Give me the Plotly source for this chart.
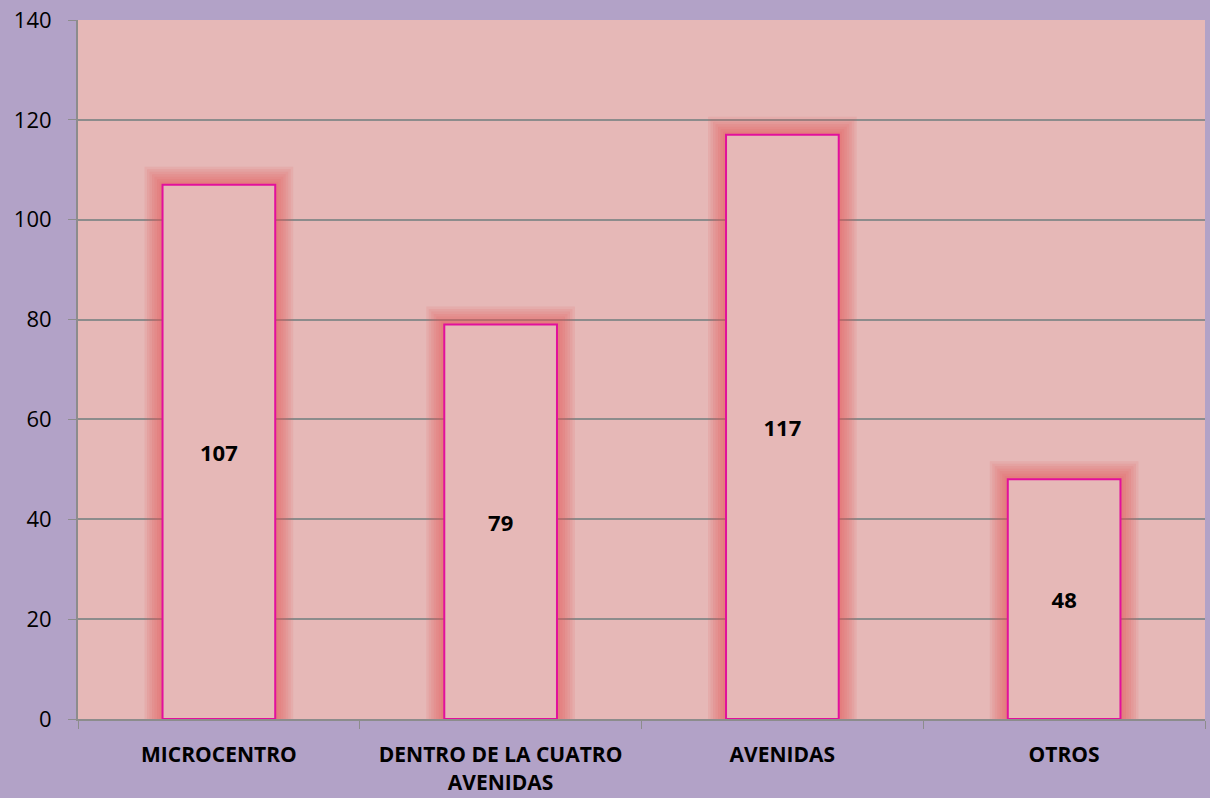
"""Bar chart: counts by zone (MICROCENTRO, AVENIDAS, ...)."""

import plotly.graph_objects as go

categories = ["MICROCENTRO", "DENTRO DE LA CUATRO<br>AVENIDAS", "AVENIDAS", "OTROS"]
values = [107, 79, 117, 48]
y_ticks = [0, 20, 40, 60, 80, 100, 120, 140]

PAGE_BG = "#b2a2c7"
PLOT_BG = "#e6b8b7"
EDGE = "#e2109c"
GRID = "#8c8c8c"
FONT = "Open Sans, Liberation Sans, Arial, sans-serif"

fig = go.Figure()

# soft red glow around each bar, built as wide translucent outlines
for lw in [36, 31, 26, 21, 16, 11, 6]:
    fig.add_trace(
        go.Bar(
            x=categories,
            y=values,
            width=0.4,
            marker=dict(color="rgba(0,0,0,0)", line=dict(color="rgba(230,85,85,0.11)", width=lw)),
            hoverinfo="skip",
            showlegend=False,
        )
    )

fig.add_trace(
    go.Bar(
        x=categories,
        y=values,
        width=0.4,
        marker=dict(color=PLOT_BG, line=dict(color=EDGE, width=2)),
        text=[str(v) for v in values],
        textposition="inside",
        insidetextanchor="middle",
        textfont=dict(family=FONT, size=22, color="black", weight="bold"),
        hoverinfo="x+y",
        showlegend=False,
    )
)

fig.update_layout(
    width=1210,
    height=798,
    paper_bgcolor=PAGE_BG,
    plot_bgcolor=PLOT_BG,
    barmode="overlay",
    margin=dict(l=78, r=5, t=20, b=79),
    font=dict(family=FONT, size=22, color="black"),
    xaxis=dict(
        tickson="boundaries",
        ticks="outside",
        ticklen=8,
        tickcolor=GRID,
        showline=True,
        linecolor=GRID,
        linewidth=2,
        showgrid=False,
        automargin=False,
        tickfont=dict(family=FONT, size=21, color="black", weight="bold"),
        ticklabelstandoff=16,
        range=[-0.5, 3.5],
    ),
    yaxis=dict(
        range=[0, 140],
        tickvals=y_ticks,
        ticks="outside",
        ticklen=8,
        tickcolor=GRID,
        showline=True,
        linecolor=GRID,
        linewidth=2,
        gridcolor=GRID,
        gridwidth=1.5,
        zeroline=False,
        automargin=False,
        tickfont=dict(family=FONT, size=22, color="black"),
        ticklabelstandoff=12,
    ),
)

fig.write_html(
    "out.html",
    config={"displayModeBar": False},
    post_script="document.body.style.margin='0';",
)
